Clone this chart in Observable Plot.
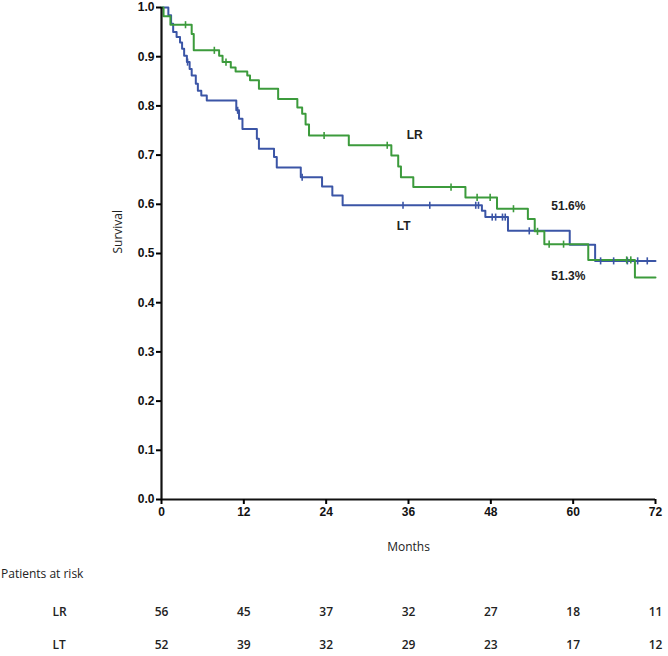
<!DOCTYPE html>
<html><head><meta charset="utf-8">
<script src="https://cdn.jsdelivr.net/npm/d3@7"></script>
<script src="https://cdn.jsdelivr.net/npm/@observablehq/plot@0.6"></script>
<style>
body{margin:0;background:#fff}
#wrap{position:relative;width:668px;height:656px;overflow:hidden;background:#fff}
#wrap svg{display:block}
#risk{position:absolute;left:1px;top:565px;font:12px "Open Sans",sans-serif;color:#222}
</style></head><body><div id="wrap"></div>
<script>
// Kaplan-Meier step data
const lrTimes = [0, 0.3, 1.3, 4.4, 4.7, 8.4, 8.9, 10.1, 10.8, 12.5, 12.9, 14.2, 17.0, 19.8, 20.5, 21.0, 21.5, 27.3, 33.5, 34.5, 34.9, 36.7, 44.3, 48.9, 53.4, 54.4, 55.8, 62.2, 69.0, 72];
const lrSurv  = [1.0, 0.982, 0.965, 0.946, 0.913, 0.902, 0.889, 0.878, 0.870, 0.862, 0.852, 0.835, 0.814, 0.797, 0.784, 0.762, 0.740, 0.720, 0.699, 0.677, 0.655, 0.635, 0.614, 0.591, 0.570, 0.545, 0.519, 0.487, 0.451, 0.451];
const ltTimes = [0, 1.0, 1.4, 1.7, 2.2, 2.7, 3.0, 3.3, 3.7, 4.1, 4.4, 5.0, 5.3, 5.8, 6.6, 10.9, 11.3, 11.8, 13.9, 14.2, 16.4, 16.8, 20.3, 23.4, 24.9, 26.4, 46.7, 47.2, 50.5, 59.5, 63.2, 72];
const ltSurv  = [1.0, 0.984, 0.967, 0.950, 0.940, 0.929, 0.916, 0.902, 0.889, 0.875, 0.862, 0.845, 0.831, 0.821, 0.811, 0.791, 0.774, 0.753, 0.733, 0.713, 0.696, 0.675, 0.655, 0.636, 0.618, 0.598, 0.587, 0.574, 0.546, 0.518, 0.485, 0.485];
// censored observation times
const lrCensor = [3.5, 7.7, 9.4, 23.7, 32.9, 42.2, 46.0, 47.9, 51.3, 54.8, 56.5, 58.6, 67.8, 68.4];
const ltCensor = [3.8, 11.1, 20.5, 35.2, 39.1, 45.8, 46.2, 48.2, 48.7, 49.7, 50.1, 53.6, 64.0, 65.9, 67.9, 69.4, 70.8];
// annotations
const noteText = ["LR", "LT", "51.6%", "51.3%"];
const noteT = [36.9, 35.3, 59.3, 59.3];
const noteS = [0.74, 0.555, 0.596, 0.453];
// axis ticks
const xTicks = [0, 12, 24, 36, 48, 60, 72];
const yTicks = [0, 0.1, 0.2, 0.3, 0.4, 0.5, 0.6, 0.7, 0.8, 0.9, 1.0];
// patients at risk
const riskGroups = ["LR", "LT"];
const lrRisk = [56, 45, 37, 32, 27, 18, 11];
const ltRisk = [52, 39, 32, 29, 23, 17, 12];

const green = "#3c9b3c", blue = "#3b55a6";
const toRows = (ts, ss, g) => ts.map((t, i) => ({t, s: ss[i], g}));
const lookup = (ts, ss) => t => { let v = ss[0]; for (let i = 0; i < ts.length; i++) if (ts[i] <= t) v = ss[i]; return v; };
const lrF = lookup(lrTimes, lrSurv), ltF = lookup(ltTimes, ltSurv);
const lrC = lrCensor.map(t => ({t, s: lrF(t)}));
const ltC = ltCensor.map(t => ({t, s: ltF(t)}));
const notes = noteText.map((text, i) => ({text, t: noteT[i], s: noteS[i]}));
const tickSym = {draw(ctx, size) { const h = Math.sqrt(size); ctx.moveTo(0, -h); ctx.lineTo(0, h); }};
const font = "'Liberation Sans', Arial, sans-serif";

const p1 = Plot.plot({
  width: 668, height: 560,
  marginLeft: 161, marginRight: 13, marginTop: 7, marginBottom: 61,
  x: {domain: [0, 72]},
  y: {domain: [0, 1]},
  style: {fontFamily: font, background: "white", overflow: "visible"},
  marks: [
    Plot.line(toRows(ltTimes, ltSurv, "LT"), {x: "t", y: "s", curve: "step-after", stroke: blue, strokeWidth: 2}),
    Plot.line(toRows(lrTimes, lrSurv, "LR"), {x: "t", y: "s", curve: "step-after", stroke: green, strokeWidth: 2}),
    Plot.dot(ltC, {x: "t", y: "s", symbol: tickSym, r: 2, stroke: blue, strokeWidth: 1.6, fill: "none"}),
    Plot.dot(lrC, {x: "t", y: "s", symbol: tickSym, r: 2, stroke: green, strokeWidth: 1.6, fill: "none"}),
    Plot.ruleX([0], {stroke: "#111", strokeWidth: 2.2}),
    Plot.ruleY([0], {stroke: "#111", strokeWidth: 2.2}),
    Plot.axisX({ticks: xTicks, tickSize: 5, tickPadding: 3, strokeWidth: 2, label: null, fontSize: 12, fontWeight: "bold", fill: "#111"}),
    Plot.axisY({ticks: yTicks, tickSize: 5, tickPadding: 2, strokeWidth: 2, label: null, tickFormat: d3.format(".1f"), fontSize: 12, fontWeight: "bold", fill: "#111"}),
    Plot.text(notes, {x: "t", y: "s", text: "text", fontSize: 12, fontWeight: "bold", fill: "#222"}),
    Plot.text(["Survival"], {frameAnchor: "left", rotate: -90, dx: -43, fontSize: 12, fontFamily: "'Open Sans', sans-serif", fill: "#222"}),
    Plot.text(["Months"], {frameAnchor: "bottom", dy: 51, fontSize: 12, fontFamily: "'Open Sans', sans-serif", fill: "#222"})
  ]
});

const riskRows = [
  ...xTicks.map((t, i) => ({t, g: "LR", n: lrRisk[i]})),
  ...xTicks.map((t, i) => ({t, g: "LT", n: ltRisk[i]}))
];
const p2 = Plot.plot({
  width: 668, height: 96,
  marginLeft: 161, marginRight: 13, marginTop: 0, marginBottom: 0,
  x: {domain: [0, 72], axis: null},
  y: {type: "point", domain: riskGroups, range: [52, 85], padding: 0},
  style: {fontFamily: "'Open Sans', sans-serif", background: "white", overflow: "visible"},
  marks: [
    Plot.text(riskRows, {x: "t", y: "g", text: "n", fontSize: 12, fontWeight: 600, fill: "#222"}),
    Plot.axisY({tickSize: 0, tickPadding: 0, textAnchor: "start", dx: -109, label: null, fontSize: 12, fontWeight: 600, fill: "#222"})
  ]
});

const wrap = document.getElementById("wrap");
wrap.appendChild(p1);
wrap.appendChild(p2);
const risk = document.createElement("div");
risk.id = "risk";
risk.textContent = "Patients at risk";
wrap.appendChild(risk);
</script></body></html>
